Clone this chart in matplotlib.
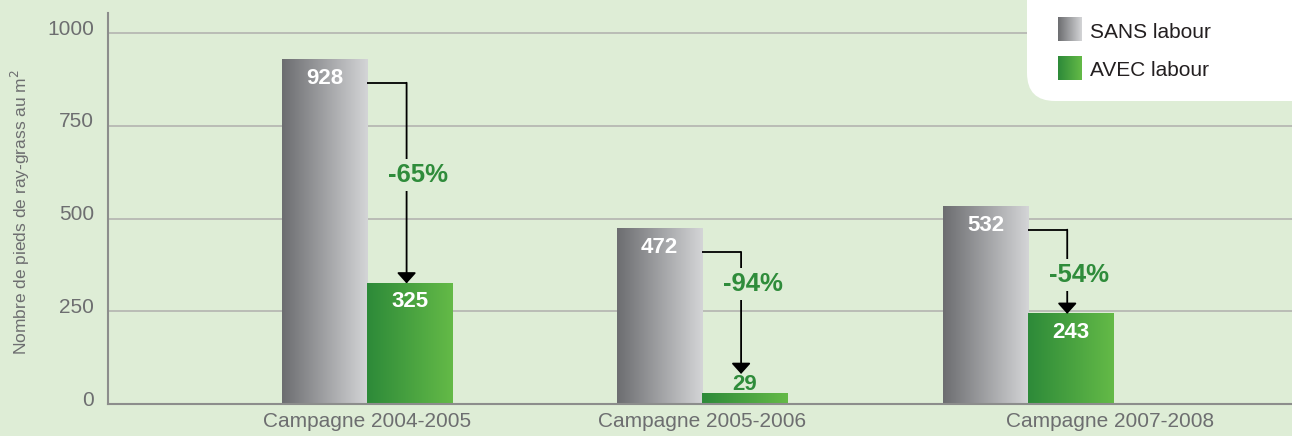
import numpy as np
import matplotlib
matplotlib.use("Agg")
import matplotlib.pyplot as plt
from matplotlib.colors import LinearSegmentedColormap
from matplotlib.patches import FancyBboxPatch
from matplotlib.transforms import IdentityTransform, ScaledTranslation

# data
campagnes = ["Campagne 2004-2005", "Campagne 2005-2006", "Campagne 2007-2008"]
sans_labour = [928, 472, 532]
avec_labour = [325, 29, 243]
reductions = ["-65%", "-94%", "-54%"]
series_names = ["SANS labour", "AVEC labour"]

# where the % label sits between bracket and arrow tip (0 = bracket, 1 = tip)
pct_frac = [0.46, 0.26, 0.54]

bg = "#deedd6"
green_txt = "#2f8c3b"
grey_cmap = LinearSegmentedColormap.from_list("g", ["#6c6d70", "#d4d5d7"])
green_cmap = LinearSegmentedColormap.from_list("v", ["#2d8a39", "#64ba47"])

plt.rcParams['font.family'] = ['Liberation Sans', 'DejaVu Sans']

fig = plt.figure(figsize=(12.92, 4.36), dpi=100, facecolor=bg)
ax = fig.add_axes([108/1292, 1 - 404/436, 1 - 108/1292, 391/436])
ax.set_facecolor(bg)

centers = np.array([0, 1, 1.975])
label_pos = np.array([0, 1, 2.22])
w = 0.2545
grad = np.linspace(0, 1, 256).reshape(1, -1)

for i in range(len(campagnes)):
	c = centers[i]
	s = sans_labour[i]
	a = avec_labour[i]
	ax.imshow(grad, extent=[c - w, c, 0, s], aspect='auto', cmap=grey_cmap,
			  interpolation='bicubic', zorder=2)
	ax.imshow(grad, extent=[c, c + w, 0, a], aspect='auto', cmap=green_cmap,
			  interpolation='bicubic', zorder=2)

	ax.text(c - w/2, s - 50, str(s), color='white', fontsize=16, fontweight='bold',
			ha='center', va='center', zorder=4)
	if a > 80:
		ax.text(c + w/2, a - 50, str(a), color='white', fontsize=16, fontweight='bold',
				ha='center', va='center', zorder=4)
		tip = a
	else:
		ax.text(c + w/2, a - 6, str(a), color=green_txt, fontsize=16, fontweight='bold',
				ha='center', va='bottom', zorder=4)
		tip = a + 52

	# bracket + arrow
	lx = c + w/2 - 0.01
	by = s - 62
	ax.plot([c, lx], [by, by], color='black', lw=1.3, zorder=3, solid_capstyle='butt')
	ax.annotate("", xy=(lx, tip), xytext=(lx, by),
				arrowprops=dict(arrowstyle='-|>,head_length=0.5,head_width=0.45',
								mutation_scale=13, color='black', lw=1.3,
								shrinkA=0, shrinkB=0), zorder=3)
	ty = by - pct_frac[i] * (by - tip)
	ax.text(lx + 0.035, ty, reductions[i], color=green_txt, fontsize=18.5,
			fontweight='bold', ha='center', va='center', zorder=5,
			bbox=dict(facecolor=bg, edgecolor='none', pad=3))

ax.set_xlim(-0.7754, -0.7754 + 1184/334.5)
ax.set_ylim(0, 1054)
ax.set_yticks([0, 250, 500, 750, 1000])
ax.set_xticks(label_pos)
ax.set_xticklabels(campagnes)
ax.tick_params(axis='both', length=0, labelsize=15, labelcolor='#6d6e70')
ax.tick_params(axis='y', pad=10)
ax.tick_params(axis='x', pad=6)
ax.yaxis.grid(True, color='#b9bcb6', lw=1.4, zorder=0)
ax.set_axisbelow(True)
for sp in ['top', 'right']:
	ax.spines[sp].set_visible(False)
for sp in ['left', 'bottom']:
	ax.spines[sp].set_color('#8c8d8c')
	ax.spines[sp].set_linewidth(1.5)

# y labels sit a little above their gridline
shift = ScaledTranslation(0, 6/100, fig.dpi_scale_trans)
for lab in ax.get_yticklabels():
	lab.set_transform(lab.get_transform() + shift)

fig.text(20/1292, 1 - 212/436, "Nombre de pieds de ray-grass au m$^2$", rotation=90,
		 ha='center', va='center', fontsize=12.5, color='#6d6e70')

# legend box
box = FancyBboxPatch((1027, 436 - 101), 320, 160, boxstyle="round,pad=0,rounding_size=28",
					 transform=IdentityTransform(), facecolor='white', edgecolor='none', zorder=5)
fig.add_artist(box)
for k, (name, cm) in enumerate(zip(series_names, [grey_cmap, green_cmap])):
	top = 17 + 39 * k
	lax = fig.add_axes([1058/1292, 1 - (top + 24)/436, 24/1292, 24/436], zorder=6)
	lax.imshow(grad, aspect='auto', cmap=cm, interpolation='bicubic')
	lax.axis('off')
	fig.text(1090/1292, 1 - (top + 15)/436, name, fontsize=15, color='#231f20',
			 ha='left', va='center', zorder=7)

plt.savefig("out.png", dpi=100, facecolor=bg)
